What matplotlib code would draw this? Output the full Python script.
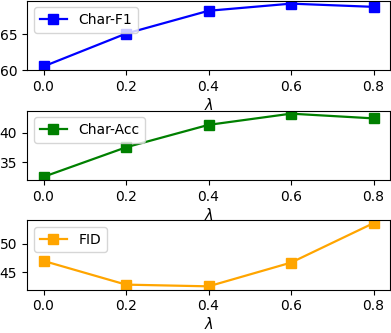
import matplotlib
matplotlib.use("Agg")
import matplotlib.pyplot as plt

lam = [0.0, 0.2, 0.4, 0.6, 0.8]
xtick_labels = ["0.0", "0.2", "0.4", "0.6", "0.8"]
char_f1 = [60.5, 65.1, 68.3, 69.3, 68.85]
char_acc = [32.5, 37.5, 41.3, 43.2, 42.4]
fid = [47.0, 42.85, 42.55, 46.7, 53.6]

series = [
    ("Char-F1", char_f1, "blue", [60, 65]),
    ("Char-Acc", char_acc, "green", [35, 40]),
    ("FID", fid, "orange", [45, 50]),
]

W, H = 391, 333
fig = plt.figure(figsize=(W / 100, H / 100), dpi=100)
# (top_px, bottom_px) of each axes
boxes = [(0.5, 70), (110.5, 180), (220, 289.5)]
left_px, right_px = 27, 390

for (label, vals, color, yt), (top, bot) in zip(series, boxes):
    ax = fig.add_axes([left_px / W, (H - bot) / H, (right_px - left_px) / W, (bot - top) / H])
    ax.plot(lam, vals, color=color, marker="s", markersize=7, linewidth=1.6, label=label)
    ax.set_xticks(lam)
    ax.set_xticklabels(xtick_labels)
    ax.set_yticks(yt)
    ax.tick_params(labelsize=10)
    ax.set_xlabel(r"$\lambda$", fontsize=10.5, labelpad=2)
    ax.legend(loc="upper left", fontsize=10)

fig.savefig("out.png", dpi=100)
